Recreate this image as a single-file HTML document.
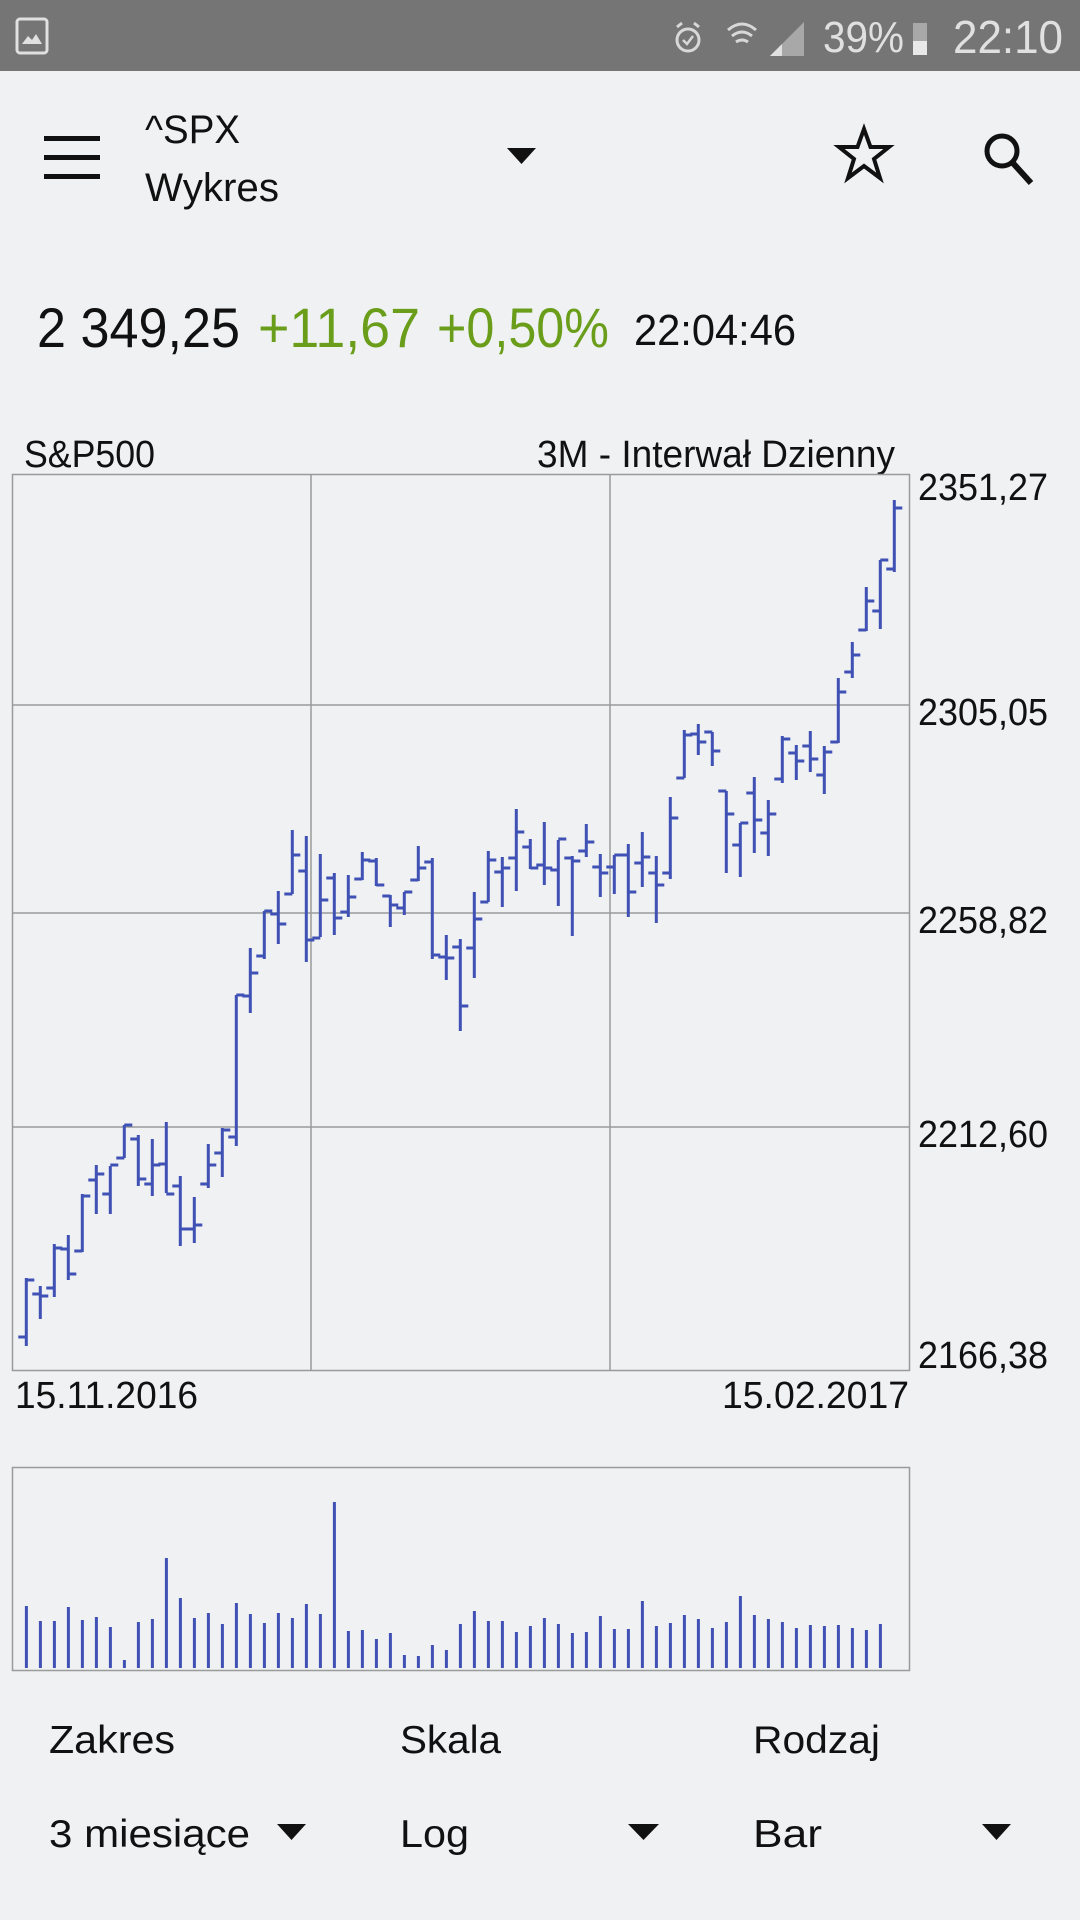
<!DOCTYPE html>
<html><head><meta charset="utf-8"><style>
html,body{margin:0;padding:0;background:#eff1f3;}
svg{display:block;}
text{font-family:"Liberation Sans",sans-serif;}
</style></head><body>
<svg width="1080" height="1920" viewBox="0 0 1080 1920" xmlns="http://www.w3.org/2000/svg">
<rect width="1080" height="1920" fill="#eff1f3"/>
<rect width="1080" height="71" fill="#757575"/>
<rect x="17" y="19" width="30" height="34" rx="3" fill="none" stroke="#e0e0e0" stroke-width="3"/>
<path d="M22 44 L28 36 L32 40 L36 34 L42 44Z" fill="#e0e0e0"/>
<circle cx="688" cy="40" r="11" fill="none" stroke="#d8d8d8" stroke-width="3"/>
<path d="M677 27 l5 -4 M699 27 l-5 -4" stroke="#d8d8d8" stroke-width="3"/>
<path d="M683 40 l4 4 l6 -8" fill="none" stroke="#d8d8d8" stroke-width="2.5"/>
<path d="M728 30 q14 -12 28 0 M732 36 q10 -8 20 0 M736 42 q6 -4 12 0" fill="none" stroke="#d8d8d8" stroke-width="3"/>
<path d="M770 56 L804 22 V56Z" fill="#a8a8a8"/>
<path d="M770 56 L782 44 V56Z" fill="#e0e0e0"/>
<text x="823" y="52" font-size="44" fill="#e0e0e0" textLength="81" lengthAdjust="spacingAndGlyphs">39%</text>
<rect x="913" y="23" width="14" height="32" fill="#a8a8a8"/>
<rect x="913" y="41" width="14" height="14" fill="#e8e8e8"/>
<text x="953" y="53" font-size="46" fill="#e0e0e0" textLength="110" lengthAdjust="spacingAndGlyphs">22:10</text>
<rect x="44" y="136" width="56" height="5" fill="#111"/>
<rect x="44" y="155" width="56" height="5" fill="#111"/>
<rect x="44" y="174" width="56" height="5" fill="#111"/>
<text x="145" y="143" font-size="40" fill="#111" textLength="95" lengthAdjust="spacingAndGlyphs">^SPX</text>
<text x="145" y="201" font-size="40" fill="#111" textLength="134" lengthAdjust="spacingAndGlyphs">Wykres</text>
<path d="M507 148 H536 L521.5 164Z" fill="#111"/>
<path d="M864 129 L870.5 147 L889 147 L874 159 L880 178 L864 166 L848 178 L854 159 L839 147 L857.5 147Z" fill="none" stroke="#111" stroke-width="4"/>
<circle cx="1002" cy="151" r="15" fill="none" stroke="#111" stroke-width="5"/>
<path d="M1012 162 L1031 183" stroke="#111" stroke-width="6"/>
<text x="37" y="347" font-size="56" fill="#111" textLength="203" lengthAdjust="spacingAndGlyphs">2 349,25</text>
<text x="258" y="347" font-size="56" fill="#6a9e1a" textLength="162" lengthAdjust="spacingAndGlyphs">+11,67</text>
<text x="437" y="347" font-size="56" fill="#6a9e1a" textLength="172" lengthAdjust="spacingAndGlyphs">+0,50%</text>
<text x="634" y="345" font-size="44" fill="#111" textLength="162" lengthAdjust="spacingAndGlyphs">22:04:46</text>
<text x="24" y="467" font-size="38" fill="#111" textLength="131" lengthAdjust="spacingAndGlyphs">S&amp;P500</text>
<text x="537" y="467" font-size="38" fill="#111" textLength="358" lengthAdjust="spacingAndGlyphs">3M - Interwał Dzienny</text>
<g stroke="#9a9a9a" stroke-width="1.5" fill="none">
<rect x="12.5" y="474.5" width="897" height="896"/>
<path d="M311 474V1371 M610 474V1371 M12 705H910 M12 913H910 M12 1127H910"/>
<rect x="12.5" y="1467.5" width="897" height="203"/>
</g>
<g font-size="38" fill="#111">
<text x="918" y="500" textLength="130" lengthAdjust="spacingAndGlyphs">2351,27</text>
<text x="918" y="725" textLength="130" lengthAdjust="spacingAndGlyphs">2305,05</text>
<text x="918" y="933" textLength="130" lengthAdjust="spacingAndGlyphs">2258,82</text>
<text x="918" y="1147" textLength="130" lengthAdjust="spacingAndGlyphs">2212,60</text>
<text x="918" y="1368" textLength="130" lengthAdjust="spacingAndGlyphs">2166,38</text>
<text x="15" y="1408" textLength="183" lengthAdjust="spacingAndGlyphs">15.11.2016</text>
<text x="722" y="1408" textLength="187" lengthAdjust="spacingAndGlyphs">15.02.2017</text>
</g>
<g stroke="#3f51b5" stroke-width="3" fill="none" transform="translate(0.3,0)">
<path d="M26 1278V1346M18 1337H26M26 1280H34
M40 1286V1319M32 1294H40M40 1296H48
M54 1244V1297M46 1288H54M54 1248H62
M68 1235V1280M60 1249H68M68 1274H76
M82 1194V1252M74 1251H82M82 1196H90
M96 1165V1214M88 1180H96M96 1174H104
M110 1166V1214M102 1194H110M110 1165H118
M124 1125V1158M116 1158H124M124 1125H132
M138 1135V1186M130 1139H138M138 1179H146
M152 1139V1196M144 1184H152M152 1165H160
M166 1122V1193M158 1164H166M166 1194H174
M180 1176V1246M172 1186H180M180 1229H188
M194 1197V1243M186 1229H194M194 1225H202
M208 1144V1188M200 1184H208M208 1165H216
M222 1128V1177M214 1153H222M222 1130H230
M236 995V1146M228 1137H236M236 995H244
M250 948V1013M242 996H250M250 973H258
M264 911V959M256 956H264M264 911H272
M278 891V944M270 914H278M278 924H286
M292 830V894M284 894H292M292 855H300
M306 836V962M298 871H306M306 940H314
M320 854V937M312 938H320M320 900H328
M334 873V935M326 878H334M334 918H342
M348 875V917M340 912H348M348 897H356
M362 852V880M354 879H362M362 860H370
M376 858V886M368 861H376M376 885H384
M390 895V927M382 896H390M390 905H398
M404 892V915M396 908H404M404 892H412
M418 846V881M410 880H418M418 868H426
M432 858V959M424 862H432M432 955H440
M446 935V980M438 957H446M446 958H454
M460 939V1031M452 947H460M460 1006H468
M474 892V978M466 948H474M474 919H482
M488 851V902M480 902H488M488 860H496
M502 857V907M494 872H502M502 868H510
M516 809V891M508 858H516M516 832H524
M530 839V869M522 847H530M530 868H538
M544 822V885M536 865H544M544 868H552
M558 840V906M550 870H558M558 839H566
M572 856V936M564 858H572M572 861H580
M586 824V857M578 851H586M586 842H594
M600 854V897M592 867H600M600 873H608
M614 855V894M606 867H614M614 855H622
M628 844V917M620 855H628M628 892H636
M642 832V887M634 863H642M642 857H650
M656 856V923M648 873H656M656 885H664
M670 797V879M662 873H670M670 818H678
M684 730V778M676 778H684M684 735H692
M698 724V755M690 734H698M698 742H706
M712 732V766M704 732H712M712 751H720
M726 791V873M718 791H726M726 814H734
M740 823V877M732 845H740M740 823H748
M754 777V853M746 793H754M754 820H762
M768 800V856M760 833H768M768 814H776
M782 736V783M774 779H782M782 739H790
M796 745V780M788 753H796M796 761H804
M810 731V772M802 746H810M810 759H818
M824 746V794M816 775H824M824 752H832
M838 678V743M830 742H838M838 692H846
M852 642V678M844 672H852M852 655H860
M866 587V631M858 630H866M866 601H874
M880 560V629M872 611H880M880 560H888
M894 500V572M886 569H894M894 508H902"/>
</g>
<g stroke="#3f51b5" stroke-width="3" fill="none" transform="translate(0.4,0)">
<path d="M26 1668V1606M40 1668V1621M54 1668V1621M68 1668V1607M82 1668V1620M96 1668V1617M110 1668V1627M124 1668V1660M138 1668V1622M152 1668V1619M166 1668V1558M180 1668V1598M194 1668V1618M208 1668V1613M222 1668V1624M236 1668V1603M250 1668V1614M264 1668V1623M278 1668V1613M292 1668V1618M306 1668V1604M320 1668V1614M334 1668V1502M348 1668V1631M362 1668V1630M376 1668V1639M390 1668V1633M404 1668V1655M418 1668V1656M432 1668V1645M446 1668V1650M460 1668V1624M474 1668V1611M488 1668V1621M502 1668V1621M516 1668V1632M530 1668V1626M544 1668V1618M558 1668V1624M572 1668V1633M586 1668V1632M600 1668V1616M614 1668V1629M628 1668V1629M642 1668V1601M656 1668V1626M670 1668V1623M684 1668V1615M698 1668V1619M712 1668V1628M726 1668V1622M740 1668V1596M754 1668V1615M768 1668V1619M782 1668V1622M796 1668V1628M810 1668V1625M824 1668V1626M838 1668V1625M852 1668V1628M866 1668V1630M880 1668V1624"/>
</g>
<g font-size="39" fill="#111">
<text x="49" y="1753" textLength="126" lengthAdjust="spacingAndGlyphs">Zakres</text>
<text x="400" y="1753" textLength="101" lengthAdjust="spacingAndGlyphs">Skala</text>
<text x="753" y="1753" textLength="127" lengthAdjust="spacingAndGlyphs">Rodzaj</text>
<text x="49" y="1847" textLength="201" lengthAdjust="spacingAndGlyphs">3 miesiące</text>
<text x="400" y="1847" textLength="69" lengthAdjust="spacingAndGlyphs">Log</text>
<text x="753" y="1847" textLength="69" lengthAdjust="spacingAndGlyphs">Bar</text>
</g>
<path d="M277 1824H306L291.5 1840Z M628 1824H659L643.5 1840Z M982 1824H1011L996.5 1840Z" fill="#111"/>
</svg>
</body></html>
